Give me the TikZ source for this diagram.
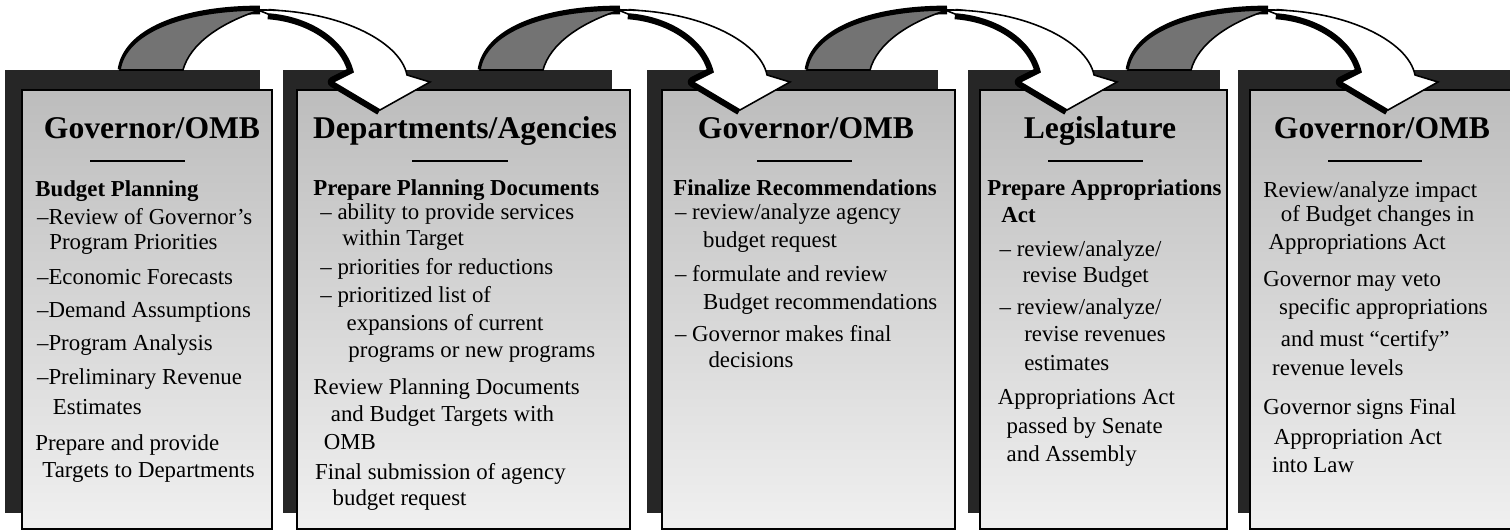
\documentclass[tikz,border=0pt]{standalone}
\usepackage{fontspec}
\setmainfont{Liberation Serif}
\usetikzlibrary{positioning}

\tikzset{
  backpanel/.style={fill=black!85},
  frontpanel/.style={draw=black, line width=1.3pt, top color=black!26, bottom color=black!6},
  boxtitle/.style={font=\fontsize{18}{21}\selectfont\bfseries, anchor=base, inner sep=0pt},
  boxtext/.style={font=\fontsize{13}{15.4}\selectfont, align=left, anchor=north west, inner sep=0pt},
  titlerule/.style={line width=1.3pt},
  ribbonback/.style={fill=black!55, draw=black, line width=0.9pt},
  ribbonfront/.style={fill=white, draw=black, line width=0.9pt},
  ribbonshadow/.style={draw=black, line width=#1, line join=round},
  bentarrow/.pic={
    \draw[ribbonshadow=5pt] (2,0) .. controls (7,-36) and (60,-60) .. (140,-60);
    \filldraw[ribbonback] (0,0) .. controls (5,-36) and (60,-60) .. (140,-60)
      .. controls (100,-47) and (70,-26) .. (63,0) -- cycle;
    \draw[ribbonshadow=6pt] (148,-56) .. controls (190,-53) and (225,-30) .. (233,2) -- (213,12) -- (260,40);
    \filldraw[ribbonfront] (138,-60) .. controls (215,-61) and (280,-30) .. (287,5)
      -- (310,12) -- (260,40) -- (213,12) -- (233,2)
      .. controls (225,-30) and (190,-53) .. (148,-56) -- cycle;
  }
}

\begin{document}
\begin{tikzpicture}[x=0.02cm, y=-0.02cm]
  \useasboundingbox[fill=white] (0,0) rectangle (1510,531);

  % dark back panels
  \fill[backpanel] (5,70) rectangle (260,513);
  \fill[backpanel] (283,70) rectangle (612,513);
  \fill[backpanel] (647,70) rectangle (938,513);
  \fill[backpanel] (968,70) rectangle (1220,513);
  \fill[backpanel] (1238,70) rectangle (1515,513);

  % front panels
  \draw[frontpanel] (22,90) rectangle (272,529);
  \draw[frontpanel] (297,90) rectangle (630,529);
  \draw[frontpanel] (662,90) rectangle (955,529);
  \draw[frontpanel] (980,90) rectangle (1227,529);
  \draw[frontpanel] (1250,90) rectangle (1516,529);

  % titles
  \node[boxtitle] (t1) at (152,138) {Governor/OMB};
  \node[boxtitle] (t2) at (465,138) {Departments/Agencies};
  \node[boxtitle] (t3) at (806,138) {Governor/OMB};
  \node[boxtitle] (t4) at (1100,138) {Legislature};
  \node[boxtitle] (t5) at (1382,138) {Governor/OMB};

  \draw[titlerule] (90,161) -- (185,161);
  \draw[titlerule] (412,161) -- (508,161);
  \draw[titlerule] (757,161) -- (852,161);
  \draw[titlerule] (1048,161) -- (1143,161);
  \draw[titlerule] (1328,161) -- (1422,161);

  % texts
  \node[boxtext] (b1) at (35,180) {\textbf{Budget Planning}\\[0.6pt]
    \hspace*{1pt}--Review of Governor's\\[-1pt]
    \hspace*{8pt}Program Priorities\\[4.5pt]
    \hspace*{1pt}--Economic Forecasts\\[3.4pt]
    \hspace*{1pt}--Demand Assumptions\\[3.4pt]
    \hspace*{1pt}--Program Analysis\\[4pt]
    \hspace*{1pt}--Preliminary Revenue\\[1.7pt]
    \hspace*{10pt}Estimates\\[5pt]
    Prepare and provide\\
    \hspace*{4pt}Targets to Departments};

  \node[boxtext] (b2) at (313,179) {\textbf{Prepare Planning Documents}\\[-1.5pt]
    \hspace*{4pt}-- ability to provide services\\[-0.5pt]
    \hspace*{16.5pt}within Target\\[1pt]
    \hspace*{4pt}-- priorities for reductions\\[0.5pt]
    \hspace*{4pt}-- prioritized list of\\[0.5pt]
    \hspace*{19pt}expansions of current\\
    \hspace*{20pt}programs or new programs\\[5.5pt]
    Review Planning Documents\\
    \hspace*{10pt}and Budget Targets with\\[0.5pt]
    \hspace*{6pt}OMB\\[2pt]
    \hspace*{1pt}Final submission of agency\\[-1pt]
    \hspace*{11pt}budget request};

  \node[boxtext] (b3) at (673,179) {\textbf{Finalize Recommendations}\\[-1.5pt]
    \hspace*{1pt}-- review/analyze agency\\[0.6pt]
    \hspace*{17pt}budget request\\[4pt]
    \hspace*{1pt}-- formulate and review\\[0.6pt]
    \hspace*{17pt}Budget recommendations\\[2.8pt]
    \hspace*{1pt}-- Governor makes final\\[-0.6pt]
    \hspace*{20pt}decisions};

  \node[boxtext] (b4) at (987,179) {\textbf{Prepare Appropriations}\\
    \hspace*{8pt}\textbf{Act}\\[4pt]
    \hspace*{7pt}-- review/analyze/\\[-0.5pt]
    \hspace*{20pt}revise Budget\\[3pt]
    \hspace*{7pt}-- review/analyze/\\
    \hspace*{21pt}revise revenues\\[0.6pt]
    \hspace*{21pt}estimates\\[4.5pt]
    \hspace*{6pt}Appropriations Act\\[0.6pt]
    \hspace*{11pt}passed by Senate\\[1pt]
    \hspace*{11pt}and Assembly};

  \node[boxtext] (b5) at (1263,181) {Review/analyze impact\\[-1.5pt]
    \hspace*{10pt}of Budget changes in\\[0.6pt]
    \hspace*{3pt}Appropriations Act\\[5.5pt]
    Governor may veto\\[0.6pt]
    \hspace*{9pt}specific appropriations\\[3pt]
    \hspace*{10pt}and must ``certify''\\[0.6pt]
    \hspace*{5pt}revenue levels\\[7pt]
    Governor signs Final\\[1.7pt]
    \hspace*{6pt}Appropriation Act\\[0.6pt]
    \hspace*{5pt}into Law};

  % curved arrows between the stages
  \coordinate (foot1) at (120,70);
  \coordinate (foot2) at (480,70);
  \coordinate (foot3) at (807,70);
  \coordinate (foot4) at (1128,70);
  \pic at (foot1) {bentarrow};
  \pic at (foot2) {bentarrow};
  \pic at (foot3) {bentarrow};
  \pic at (foot4) {bentarrow};
\end{tikzpicture}
\end{document}
